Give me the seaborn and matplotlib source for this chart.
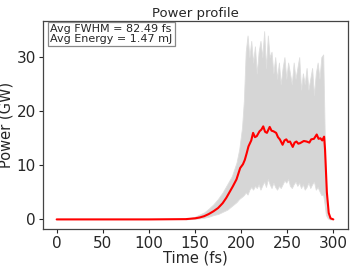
import numpy as np
import pandas as pd
import seaborn as sns
import matplotlib
matplotlib.use("Agg")
import matplotlib.pyplot as plt

# average power profile
time_fs = [0, 50, 100, 140, 150, 155, 160, 165, 170, 175, 180, 184, 188, 191, 195,
           199, 202, 204, 206, 208, 211, 213, 215, 217, 220, 222, 224, 226, 228, 231,
           233, 235, 238, 240, 242, 245, 247, 249, 251, 253, 256, 258, 260, 262, 264,
           268, 271, 274, 276, 279, 282, 284, 286, 288, 290, 291, 293, 295, 297, 300]
power_avg = [0, 0, 0, 0.05, 0.2, 0.35, 0.6, 1.0, 1.5, 2.1, 3.0, 4.0, 5.2, 6.1, 7.4,
             9.5, 10.2, 11.0, 12.2, 13.5, 14.6, 16.0, 15.2, 15.4, 16.3, 16.6, 17.2, 16.2, 16.0, 17.1,
             16.4, 16.3, 16.0, 15.2, 14.8, 13.8, 14.6, 14.8, 14.3, 14.4, 13.4, 14.2, 14.4, 14.0, 14.1,
             14.5, 14.4, 14.2, 14.8, 14.9, 15.7, 14.9, 15.0, 14.6, 15.3, 13.0, 5.0, 1.2, 0.2, 0.0]

# spread of the individual shots (upper / lower envelope)
band_t = [140, 150, 160, 165, 170, 175, 180, 185, 190, 195, 198, 201, 203, 205, 207,
          209, 211, 213, 215, 217, 219, 221, 223, 225, 227, 229, 231, 233, 235, 237,
          239, 241, 243, 245, 247, 249, 251, 253, 255, 257, 259, 261, 263, 265, 267,
          269, 271, 273, 275, 277, 279, 281, 283, 285, 287, 289, 290, 292, 294, 296, 298]
band_hi = [0.1, 0.5, 1.3, 2.0, 2.8, 3.8, 5.0, 6.5, 8.0, 10.5, 13, 17, 22, 31, 34,
           30, 33, 29, 32, 27, 31, 33, 30, 34.8, 28, 34, 30, 31, 27, 30,
           26, 29, 25, 28, 30, 26, 29, 27, 25, 29, 26, 28, 30, 24, 27,
           25, 28, 24, 26, 28, 23, 27, 29, 26, 30, 30.5, 22, 3, 0.8, 0.2, 0]
band_lo = [0, 0.1, 0.3, 0.5, 0.8, 1.0, 1.4, 1.8, 2.5, 3.2, 3.8, 4.2, 4.5, 5.0, 4.6,
           5.5, 6.0, 5.5, 6.2, 5.8, 6.5, 5.5, 6.3, 7.0, 6.0, 7.5, 6.5, 5.8, 6.8, 6.0,
           5.5, 6.2, 5.8, 6.5, 7.2, 6.8, 7.5, 6.2, 5.8, 6.5, 7.0, 6.2, 6.8, 5.8, 6.5,
           5.5, 6.0, 6.8, 5.8, 6.5, 7.0, 5.5, 6.0, 5.2, 4.5, 4.5, 3.5, 0.8, 0.2, 0, 0]

fwhm = 82.49
energy = 1.47

df = pd.DataFrame({'Time (fs)': time_fs, 'Power (GW)': power_avg})

sns.set_style("ticks")
plt.rcParams['font.family'] = ['DejaVu Sans']

fig, ax = plt.subplots(figsize=(3.57, 2.68), dpi=100)
fig.subplots_adjust(left=0.12, right=0.975, bottom=0.146, top=0.922)

ax.fill_between(band_t, band_lo, band_hi, color='#d6d6d6', lw=0.6, edgecolor='#dedede')
sns.lineplot(data=df, x='Time (fs)', y='Power (GW)', ax=ax, color='red', lw=1.5)

ax.set_xlim(-15, 316)
ax.set_ylim(-1.75, 36.7)
ax.set_xticks([0, 50, 100, 150, 200, 250, 300])
ax.set_yticks([0, 10, 20, 30])
ax.tick_params(labelsize=11, length=3, width=0.8, pad=2)
ax.set_xlabel('Time (fs)', fontsize=10.5, labelpad=0)
ax.set_ylabel('Power (GW)', fontsize=10.5, labelpad=2)
ax.set_title('Power profile', fontsize=9.5, pad=3)
for s in ax.spines.values():
    s.set_color('#444444')
    s.set_linewidth(0.9)

ax.text(0.025, 0.985, f'Avg FWHM = {fwhm:.2f} fs\nAvg Energy = {energy:.2f} mJ',
        transform=ax.transAxes, ha='left', va='top', fontsize=8, linespacing=1.0,
        bbox=dict(boxstyle='square,pad=0.2', facecolor='white', edgecolor='#888888', lw=0.9))

fig.savefig('out.png', dpi=100)
